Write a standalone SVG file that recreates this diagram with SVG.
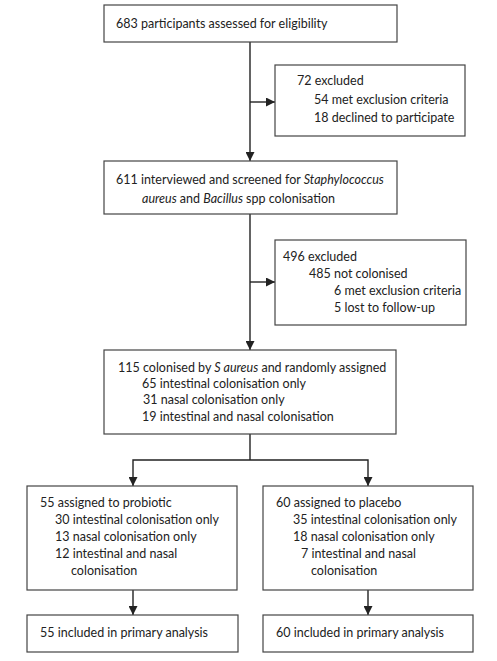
<svg xmlns="http://www.w3.org/2000/svg" width="497" height="661" viewBox="0 0 497 661">
<style>
.box{fill:#fff;stroke:#444;stroke-width:1.2}
.t{font-family:"Lato","Liberation Sans",sans-serif;font-size:12.5px;fill:#222}
.i{font-style:italic}
.c{fill:none;stroke:#222;stroke-width:1.4}
</style>
<defs>
<marker id="ah" viewBox="0 0 10 10" refX="10" refY="5" markerWidth="9" markerHeight="9" markerUnits="userSpaceOnUse" orient="auto">
<path d="M0,0 L10,5 L0,10 z" fill="#222"/>
</marker>
</defs>
<rect width="497" height="661" fill="#fff"/>
<g id="connectors">
<path class="c" d="M250,42 V161" marker-end="url(#ah)"/>
<path class="c" d="M250,102 H275" marker-end="url(#ah)"/>
<path class="c" d="M250,214 V350" marker-end="url(#ah)"/>
<path class="c" d="M250,282 H275" marker-end="url(#ah)"/>
<path class="c" d="M250,434 V460"/>
<path class="c" d="M250,460 H133 V486" marker-end="url(#ah)"/>
<path class="c" d="M250,460 H368 V486" marker-end="url(#ah)"/>
<path class="c" d="M133,590 V615" marker-end="url(#ah)"/>
<path class="c" d="M368,590 V615" marker-end="url(#ah)"/>
</g>
<g id="n1">
<rect class="box" x="104" y="5" width="293" height="37"/>
<text class="t" x="116" y="28">683 participants assessed for eligibility</text>
</g>
<g id="n2">
<rect class="box" x="275" y="65" width="190" height="71"/>
<text class="t" x="297" y="85">72 excluded</text>
<text class="t" x="314" y="104">54 met exclusion criteria</text>
<text class="t" x="314" y="122">18 declined to participate</text>
</g>
<g id="n3">
<rect class="box" x="104" y="161" width="293" height="53"/>
<text class="t" x="116" y="184">611 interviewed and screened for <tspan class="i">Staphylococcus</tspan></text>
<text class="t" x="142" y="203"><tspan class="i">aureus</tspan> and <tspan class="i">Bacillus</tspan> spp colonisation</text>
</g>
<g id="n4">
<rect class="box" x="275" y="240" width="191" height="85"/>
<text class="t" x="283" y="261">496 excluded</text>
<text class="t" x="309" y="278">485 not colonised</text>
<text class="t" x="334" y="295">6 met exclusion criteria</text>
<text class="t" x="334" y="312">5 lost to follow-up</text>
</g>
<g id="n5">
<rect class="box" x="104" y="350" width="292" height="84"/>
<text class="t" x="118" y="372">115 colonised by <tspan class="i">S aureus</tspan> and randomly assigned</text>
<text class="t" x="142" y="388">65 intestinal colonisation only</text>
<text class="t" x="143" y="404">31 nasal colonisation only</text>
<text class="t" x="142" y="421">19 intestinal and nasal colonisation</text>
</g>
<g id="n6">
<rect class="box" x="27" y="486" width="210" height="104"/>
<text class="t" x="40" y="507">55 assigned to probiotic</text>
<text class="t" x="55" y="524">30 intestinal colonisation only</text>
<text class="t" x="55" y="541">13 nasal colonisation only</text>
<text class="t" x="55" y="558">12 intestinal and nasal</text>
<text class="t" x="71" y="575">colonisation</text>
</g>
<g id="n7">
<rect class="box" x="263" y="486" width="210" height="104"/>
<text class="t" x="276" y="507">60 assigned to placebo</text>
<text class="t" x="293" y="524">35 intestinal colonisation only</text>
<text class="t" x="293" y="541">18 nasal colonisation only</text>
<text class="t" x="301" y="558">7 intestinal and nasal</text>
<text class="t" x="311" y="575">colonisation</text>
</g>
<g id="n8">
<rect class="box" x="27" y="615" width="211" height="37"/>
<text class="t" x="40" y="637">55 included in primary analysis</text>
</g>
<g id="n9">
<rect class="box" x="263" y="615" width="210" height="37"/>
<text class="t" x="276" y="637">60 included in primary analysis</text>
</g>
</svg>
